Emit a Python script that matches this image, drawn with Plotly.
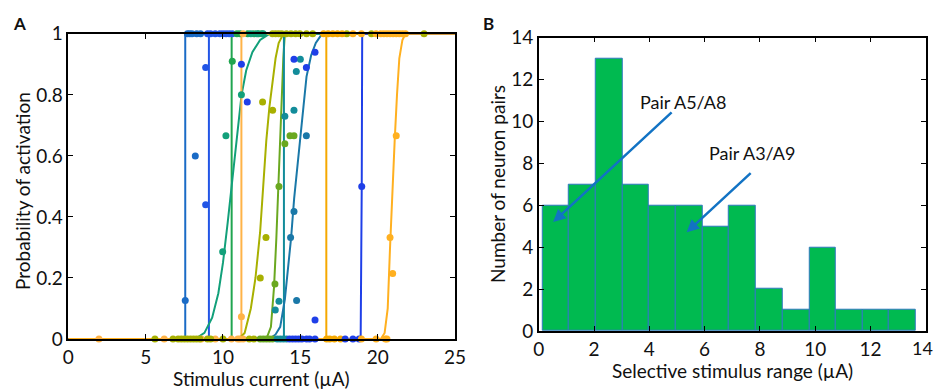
import plotly.graph_objects as go

# ---------------- Panel A data ----------------
# fitted activation curves
curves = [
    dict(name="n1", color="#1A6BC6", x=[0, 7.56, 7.56, 25], y=[0, 0, 1, 1]),
    dict(name="n2", color="#2255E6", x=[0, 9.09, 9.09, 25], y=[0, 0, 1, 1]),
    dict(name="n3", color="#20A550", x=[0, 10.56, 10.56, 25], y=[0, 0, 1, 1]),
    dict(name="n4", color="#12A07A",
         x=[0, 8.2, 8.8, 9.3, 9.7, 10.0, 10.3, 10.6, 10.9, 11.2, 11.5, 11.9, 12.4, 13.0, 25],
         y=[0, 0, 0.02, 0.07, 0.15, 0.25, 0.38, 0.52, 0.67, 0.8, 0.88, 0.94, 0.98, 1, 1]),
    dict(name="n5", color="#FFB347", x=[0, 11.19, 11.19, 25], y=[0, 0, 1, 1]),
    dict(name="n6", color="#A8B000",
         x=[0, 11.0, 11.4, 11.8, 12.1, 12.4, 12.6, 12.8, 13.0, 13.2, 13.4, 13.6, 13.9, 25],
         y=[0, 0, 0.02, 0.1, 0.2, 0.35, 0.5, 0.65, 0.76, 0.84, 0.92, 0.97, 1, 1]),
    dict(name="n7", color="#6AA820",
         x=[0, 12.8, 13.1, 13.3, 13.45, 13.57, 13.68, 13.8, 13.9, 14.0, 25],
         y=[0, 0, 0.04, 0.17, 0.33, 0.5, 0.65, 0.8, 0.92, 1, 1]),
    dict(name="n8", color="#128C9A", x=[0, 13.94, 13.94, 25], y=[0, 0, 1, 1]),
    dict(name="n9", color="#1A78A8",
         x=[0, 13.0, 13.4, 13.7, 14.0, 14.2, 14.4, 14.6, 14.8, 15.0, 15.2, 15.4, 15.7, 16.0, 16.4, 25],
         y=[0, 0, 0.015, 0.04, 0.13, 0.22, 0.33, 0.46, 0.57, 0.66, 0.76, 0.86, 0.93, 0.97, 1, 1]),
    dict(name="n10", color="#F5A800", x=[0, 16.68, 16.68, 25], y=[0, 0, 1, 1]),
    dict(name="n11", color="#1F3FE8", x=[0, 18.9, 18.97, 19.0, 25], y=[0, 0, 0.5, 1, 1]),
    dict(name="n12", color="#FFB020",
         x=[0, 20.2, 20.45, 20.65, 20.8, 20.95, 21.1, 21.25, 21.4, 21.6, 21.8, 25],
         y=[0, 0, 0.02, 0.1, 0.3, 0.5, 0.65, 0.8, 0.92, 0.98, 1, 1]),
]

# measured activation probabilities (dots)
dots = [
    dict(color="#1A6BC6",
         x=[7.56, 8.21, 7.7, 7.85, 8.0, 8.3, 8.55],
         y=[0.126, 0.60, 1, 1, 1, 1, 1]),
    dict(color="#2255E6",
         x=[8.88, 8.88, 9.0, 9.2, 9.5, 9.8, 10.0, 10.2, 10.4, 10.6],
         y=[0.89, 0.44, 1, 1, 1, 1, 1, 1, 1, 1]),
    dict(color="#20A550",
         x=[10.6, 10.9, 11.1, 11.6, 12.0, 12.3, 12.5],
         y=[0.91, 1, 1, 1, 1, 1, 1]),
    dict(color="#12A07A",
         x=[9.98, 10.19, 11.19, 11.8, 12.2, 12.6],
         y=[0.286, 0.666, 0.80, 1, 1, 1]),
    dict(color="#FFB347",
         x=[11.19, 11.3, 1.98, 6.2, 8.6, 9.5, 10.55, 10.96, 11.1, 11.3],
         y=[0.073, 1, 0, 0, 0, 0, 0, 0, 0, 0]),
    dict(color="#A8B000",
         x=[12.41, 12.78, 12.56, 13.21, 13.2, 13.4, 13.6, 13.8, 14.1, 14.4, 14.7, 14.97, 15.4, 15.8,
            18.0, 19.6, 23.0, 5.6, 6.77, 7.1, 7.3, 7.5, 7.7, 7.9, 8.1, 8.3, 8.5, 9.0, 9.2, 10.0,
            11.7, 12.0],
         y=[0.20, 0.333, 0.777, 0.75, 1, 1, 1, 1, 1, 1, 1, 1, 1, 1,
            1, 1, 1, 0, 0, 0, 0, 0, 0, 0, 0, 0, 0, 0, 0, 0,
            0, 0]),
    dict(color="#6AA820",
         x=[13.36, 13.62, 14.0, 14.33, 14.59, 12.4, 12.6, 12.8, 13.0, 13.2],
         y=[0.18, 0.5, 0.64, 0.666, 0.666, 0, 0, 0, 0, 0]),
    dict(color="#128C9A",
         x=[14.0, 13.62, 13.38, 14.59, 14.74, 15.0, 13.5, 13.7, 13.9, 14.1],
         y=[0.73, 0.124, 0.095, 0.75, 0.877, 0.917, 0, 0, 0, 0]),
    dict(color="#1A78A8",
         x=[14.59, 14.37, 14.76, 15.39],
         y=[0.418, 0.333, 0.126, 0.666]),
    dict(color="#F5A800",
         x=[16.5, 16.8, 17.1, 17.4, 17.7, 16.7, 16.9, 17.2, 17.6],
         y=[1, 1, 1, 1, 1, 0, 0, 0, 0]),
    dict(color="#1F3FE8",
         x=[18.97, 11.19, 11.57, 14.59, 15.39, 15.95, 15.95, 14.3, 14.5, 14.7, 14.9, 15.1,
            15.4, 15.6, 15.95, 17.9, 18.4, 18.8],
         y=[0.5, 0.90, 0.777, 0.917, 0.89, 0.94, 0.062, 0, 0, 0, 0, 0,
            0, 0, 0, 0, 0, 0]),
    dict(color="#FFB020",
         x=[20.8, 20.97, 21.2, 18.4, 18.95, 19.9, 20.2, 20.4, 20.6, 20.8, 21.0, 21.2, 21.4,
            21.6, 21.8, 18.95, 19.9, 20.5, 20.6],
         y=[0.333, 0.215, 0.666, 1, 1, 1, 1, 1, 1, 1, 1, 1, 1,
            1, 1, 0, 0, 0, 0]),
]

# ---------------- Panel B data ----------------
bin_edges = [0.13, 1.10, 2.06, 3.03, 3.99, 4.96, 5.92, 6.89, 7.86, 8.82, 9.79, 10.75, 11.72, 12.68, 13.65]
counts = [6, 7, 13, 7, 6, 6, 5, 6, 2, 1, 4, 1, 1, 1]
b_xticks = [0, 2, 4, 6, 8, 10, 12, 14]

W, H = 937, 389
FONT = "Lato"
B_DOMAIN = [0.575, 0.988]
fig = go.Figure()

for c in curves:
    fig.add_trace(go.Scatter(x=c["x"], y=c["y"], mode="lines",
                             line=dict(color=c["color"], width=2),
                             xaxis="x", yaxis="y", showlegend=False, hoverinfo="skip"))
for d in dots:
    fig.add_trace(go.Scatter(x=d["x"], y=d["y"], mode="markers",
                             marker=dict(color=d["color"], size=7),
                             xaxis="x", yaxis="y", showlegend=False, cliponaxis=False))

centers = [(bin_edges[i] + bin_edges[i + 1]) / 2 for i in range(len(counts))]
widths = [bin_edges[i + 1] - bin_edges[i] for i in range(len(counts))]
fig.add_trace(go.Bar(x=centers, y=counts, width=widths,
                     marker=dict(color="#00BA50", line=dict(color="#2F78C0", width=1)),
                     xaxis="x2", yaxis="y2", showlegend=False))

axis_common = dict(showline=True, linecolor="black", linewidth=1.5, mirror="ticks",
                   ticks="inside", ticklen=5, tickcolor="black", tickwidth=1,
                   showgrid=False, zeroline=False, automargin=False,
                   ticklabeloverflow="allow",
                   tickfont=dict(family=FONT, size=19, color="#111"))


def px_ann(text, x, y, size=19, angle=0, bold=False, xanchor="center"):
    return dict(text=f"<b>{text}</b>" if bold else text, x=x / W, y=1 - y / H,
                xref="paper", yref="paper", showarrow=False, textangle=angle,
                xanchor=xanchor, yanchor="middle",
                font=dict(family=FONT, size=size, color="#111"))


fig.update_layout(
    width=W, height=H,
    margin=dict(l=0, r=0, t=0, b=0),
    paper_bgcolor="white", plot_bgcolor="white",
    bargap=0,
    xaxis=dict(domain=[0.0729, 0.4856], range=[0, 25], tickvals=[0, 5, 10, 15, 20, 25],
               anchor="y", **axis_common),
    yaxis=dict(domain=[0.1285, 0.913], range=[0, 1], tickvals=[0, 0.2, 0.4, 0.6, 0.8, 1],
               ticktext=["0", "0.2", "0.4", "0.6", "0.8", "1"],
               anchor="x", **axis_common),
    xaxis2=dict(domain=B_DOMAIN, range=[0, 14], tickvals=b_xticks,
                ticktext=[str(t) for t in b_xticks[:-1]] + [""],
                anchor="y2", **axis_common),
    yaxis2=dict(domain=[0.149, 0.903], range=[0, 14], tickvals=list(range(0, 15, 2)),
                anchor="x2", **axis_common),
    annotations=[
        px_ann("A", 19, 24, size=17, bold=True),
        px_ann("B", 489, 24, size=17, bold=True),
        px_ann("Stimulus current (µA)", 261, 378),
        px_ann("Probability of activation", 22, 191, angle=-90),
        px_ann("Selective stimulus range (µA)", 732, 370),
        px_ann("Number of neuron pairs", 497, 184, angle=-90),
        # last x tick label of panel B, right at the page edge
        px_ann(str(b_xticks[-1]), 935, 348, size=18, xanchor="right"),
        dict(text="Pair A5/A8", x=3.58, y=10.95, xref="x2", yref="y2", xanchor="left",
             showarrow=False, font=dict(family=FONT, size=18, color="#111")),
        dict(text="Pair A3/A9", x=6.07, y=8.48, xref="x2", yref="y2", xanchor="left",
             showarrow=False, font=dict(family=FONT, size=18, color="#111")),
        dict(x=0.52, y=5.2, ax=4.86, ay=10.5, xref="x2", yref="y2", axref="x2", ayref="y2",
             text="", showarrow=True, arrowhead=2, arrowsize=1, arrowwidth=2.5, arrowcolor="#1273C4"),
        dict(x=5.35, y=4.71, ax=7.72, ay=7.6, xref="x2", yref="y2", axref="x2", ayref="y2",
             text="", showarrow=True, arrowhead=2, arrowsize=1, arrowwidth=2.5, arrowcolor="#1273C4"),
    ],
)

fig.write_html("out.html")
